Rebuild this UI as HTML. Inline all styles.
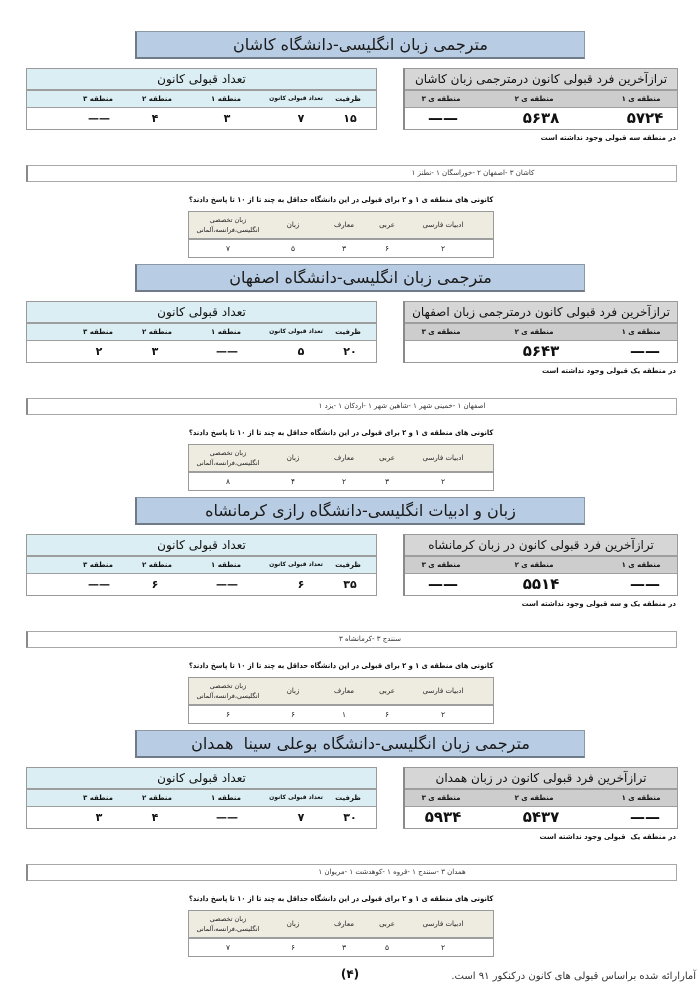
<!DOCTYPE html>
<html lang="fa">
<head>
<meta charset="utf-8">
<style>
  html,body{margin:0;padding:0;}
  body{width:700px;height:991px;background:#fff;position:relative;overflow:hidden;font-family:"DejaVu Sans","Liberation Sans",sans-serif;color:#111;}
  .s{position:absolute;left:0;width:700px;height:233px;}
  .t{position:absolute;left:135px;top:0;width:447px;height:25px;background:#b8cce4;border:1px solid #8c98a6;border-left:2px solid #6f7b88;border-bottom:2px solid #6f7b88;text-align:center;line-height:25px;font-size:16px;color:#1a1a1a;direction:rtl;white-space:nowrap;}
  .lt,.rt,.st{position:absolute;border:1px solid #9a9a9a;background:#fff;}
  .lt{left:26px;top:37px;width:349px;height:60px;}
  .rt{left:403px;top:37px;width:272px;height:60px;border-left:2px solid #8a8a8a;}
  .hd{position:absolute;left:0;right:0;top:0;height:20px;text-align:center;line-height:21px;font-size:12px;direction:rtl;white-space:nowrap;}
  .sb{position:absolute;left:0;right:0;top:20px;height:16px;border-top:2px solid #9e9e9e;border-bottom:1px solid #9e9e9e;}
  .lt .hd,.lt .sb{background:#daeef3;}
  .rt .hd{background:#d6d6d6;}
  .rt .sb{background:#cdcdcd;}
  .x{position:absolute;width:120px;margin-left:-60px;text-align:center;white-space:nowrap;direction:rtl;font-style:normal;}
  .lab{top:22px;line-height:16px;font-size:7px;font-weight:bold;}
  .d1{top:39px;line-height:21px;font-size:11px;font-weight:bold;}
  .d2{top:39px;line-height:21px;font-size:15px;font-weight:bold;}
  .note{position:absolute;right:24px;top:102px;line-height:10px;font-size:7px;font-weight:bold;direction:rtl;white-space:nowrap;}
  .city{position:absolute;left:26px;top:134px;width:648px;height:15px;border:1px solid #a8a8a8;border-left:2px solid #8a8a8a;}
  .ct{position:absolute;top:0;line-height:15px;font-size:7px;color:#333;direction:rtl;white-space:nowrap;width:300px;margin-left:-150px;text-align:center;}
  .q{position:absolute;left:141px;width:400px;top:164px;line-height:10px;font-size:7.5px;font-weight:bold;direction:rtl;text-align:center;white-space:nowrap;}
  .q span{display:inline-block;transform:scaleX(0.9);}
  .st{left:188px;top:180px;width:304px;height:45px;}
  .sh{position:absolute;left:0;right:0;top:0;height:26px;background:#eeece1;border-bottom:2px solid #9e9e9e;}
  .sl{top:0;line-height:27px;font-size:7px;color:#222;}
  .sl2{top:3px;line-height:10px;font-size:6.5px;color:#222;}
  .sd{top:28px;line-height:17px;font-size:7.5px;color:#222;}
  .foot1{position:absolute;left:334px;top:967px;width:32px;text-align:center;font-size:12px;font-weight:bold;direction:rtl;}
  .foot2{position:absolute;right:4px;top:971px;font-size:10px;color:#333;direction:rtl;white-space:nowrap;}
</style>
</head>
<body>

<!-- Section 1 -->
<div class="s" style="top:31px">
  <div class="t">مترجمی زبان انگلیسی-دانشگاه کاشان</div>
  <div class="lt">
    <div class="hd">تعداد قبولی کانون</div>
    <div class="sb"></div>
    <i class="x lab" style="left:321px">ظرفیت</i>
    <i class="x lab" style="left:269px;font-size:6px">تعداد قبولی کانون</i>
    <i class="x lab" style="left:199px">منطقه ۱</i>
    <i class="x lab" style="left:130px">منطقه ۲</i>
    <i class="x lab" style="left:71px">منطقه ۳</i>
    <i class="x d1" style="left:323px">۱۵</i>
    <i class="x d1" style="left:274px">۷</i>
    <i class="x d1" style="left:200px">۳</i>
    <i class="x d1" style="left:128px">۴</i>
    <i class="x d1" style="left:72px">——</i>
  </div>
  <div class="rt">
    <div class="hd">ترازآخرین فرد قبولی کانون درمترجمی زبان کاشان</div>
    <div class="sb"></div>
    <i class="x lab" style="left:236px">منطقه ی ۱</i>
    <i class="x lab" style="left:129px">منطقه ی ۲</i>
    <i class="x lab" style="left:36px">منطقه ی ۳</i>
    <i class="x d2" style="left:240px">۵۷۲۴</i>
    <i class="x d2" style="left:136px">۵۶۳۸</i>
    <i class="x d2" style="left:38px">——</i>
  </div>
  <div class="note">در منطقه سه قبولی وجود نداشته است</div>
  <div class="city"><i class="x ct" style="left:445px">کاشان ۳ -اصفهان ۲ -خوراسگان ۱ -نطنز ۱</i></div>
  <div class="q"><span>کانونی های منطقه ی ۱ و ۲ برای قبولی در این دانشگاه حداقل به چند تا از ۱۰ تا پاسخ دادند؟</span></div>
  <div class="st">
    <div class="sh"></div>
    <i class="x sl" style="left:254px">ادبیات فارسی</i>
    <i class="x sl" style="left:198px">عربی</i>
    <i class="x sl" style="left:155px">معارف</i>
    <i class="x sl" style="left:104px">زبان</i>
    <i class="x sl2" style="left:39px">زبان تخصصی<br>انگلیسی،فرانسه،آلمانی</i>
    <i class="x sd" style="left:254px">۲</i>
    <i class="x sd" style="left:198px">۶</i>
    <i class="x sd" style="left:155px">۳</i>
    <i class="x sd" style="left:104px">۵</i>
    <i class="x sd" style="left:39px">۷</i>
  </div>
</div>

<!-- Section 2 -->
<div class="s" style="top:264px">
  <div class="t">مترجمی زبان انگلیسی-دانشگاه اصفهان</div>
  <div class="lt">
    <div class="hd">تعداد قبولی کانون</div>
    <div class="sb"></div>
    <i class="x lab" style="left:321px">ظرفیت</i>
    <i class="x lab" style="left:269px;font-size:6px">تعداد قبولی کانون</i>
    <i class="x lab" style="left:199px">منطقه ۱</i>
    <i class="x lab" style="left:130px">منطقه ۲</i>
    <i class="x lab" style="left:71px">منطقه ۳</i>
    <i class="x d1" style="left:323px">۲۰</i>
    <i class="x d1" style="left:274px">۵</i>
    <i class="x d1" style="left:200px">——</i>
    <i class="x d1" style="left:128px">۳</i>
    <i class="x d1" style="left:72px">۲</i>
  </div>
  <div class="rt">
    <div class="hd">ترازآخرین فرد قبولی کانون درمترجمی زبان اصفهان</div>
    <div class="sb"></div>
    <i class="x lab" style="left:236px">منطقه ی ۱</i>
    <i class="x lab" style="left:129px">منطقه ی ۲</i>
    <i class="x lab" style="left:36px">منطقه ی ۳</i>
    <i class="x d2" style="left:240px">——</i>
    <i class="x d2" style="left:136px">۵۶۴۳</i>
  </div>
  <div class="note">در منطقه یک قبولی وجود نداشته است</div>
  <div class="city"><i class="x ct" style="left:374px">اصفهان ۱ -خمینی شهر ۱ -شاهین شهر ۱ -اردکان ۱ -یزد ۱</i></div>
  <div class="q"><span>کانونی های منطقه ی ۱ و ۲ برای قبولی در این دانشگاه حداقل به چند تا از ۱۰ تا پاسخ دادند؟</span></div>
  <div class="st">
    <div class="sh"></div>
    <i class="x sl" style="left:254px">ادبیات فارسی</i>
    <i class="x sl" style="left:198px">عربی</i>
    <i class="x sl" style="left:155px">معارف</i>
    <i class="x sl" style="left:104px">زبان</i>
    <i class="x sl2" style="left:39px">زبان تخصصی<br>انگلیسی،فرانسه،آلمانی</i>
    <i class="x sd" style="left:254px">۲</i>
    <i class="x sd" style="left:198px">۳</i>
    <i class="x sd" style="left:155px">۲</i>
    <i class="x sd" style="left:104px">۴</i>
    <i class="x sd" style="left:39px">۸</i>
  </div>
</div>

<!-- Section 3 -->
<div class="s" style="top:497px">
  <div class="t">زبان و ادبیات انگلیسی-دانشگاه رازی کرمانشاه</div>
  <div class="lt">
    <div class="hd">تعداد قبولی کانون</div>
    <div class="sb"></div>
    <i class="x lab" style="left:321px">ظرفیت</i>
    <i class="x lab" style="left:269px;font-size:6px">تعداد قبولی کانون</i>
    <i class="x lab" style="left:199px">منطقه ۱</i>
    <i class="x lab" style="left:130px">منطقه ۲</i>
    <i class="x lab" style="left:71px">منطقه ۳</i>
    <i class="x d1" style="left:323px">۳۵</i>
    <i class="x d1" style="left:274px">۶</i>
    <i class="x d1" style="left:200px">——</i>
    <i class="x d1" style="left:128px">۶</i>
    <i class="x d1" style="left:72px">——</i>
  </div>
  <div class="rt">
    <div class="hd">ترازآخرین فرد قبولی کانون در زبان کرمانشاه</div>
    <div class="sb"></div>
    <i class="x lab" style="left:236px">منطقه ی ۱</i>
    <i class="x lab" style="left:129px">منطقه ی ۲</i>
    <i class="x lab" style="left:36px">منطقه ی ۳</i>
    <i class="x d2" style="left:240px">——</i>
    <i class="x d2" style="left:136px">۵۵۱۴</i>
    <i class="x d2" style="left:38px">——</i>
  </div>
  <div class="note">در منطقه یک و سه قبولی وجود نداشته است</div>
  <div class="city"><i class="x ct" style="left:342px">سنندج ۳ -کرمانشاه ۳</i></div>
  <div class="q"><span>کانونی های منطقه ی ۱ و ۲ برای قبولی در این دانشگاه حداقل به چند تا از ۱۰ تا پاسخ دادند؟</span></div>
  <div class="st">
    <div class="sh"></div>
    <i class="x sl" style="left:254px">ادبیات فارسی</i>
    <i class="x sl" style="left:198px">عربی</i>
    <i class="x sl" style="left:155px">معارف</i>
    <i class="x sl" style="left:104px">زبان</i>
    <i class="x sl2" style="left:39px">زبان تخصصی<br>انگلیسی،فرانسه،آلمانی</i>
    <i class="x sd" style="left:254px">۲</i>
    <i class="x sd" style="left:198px">۶</i>
    <i class="x sd" style="left:155px">۱</i>
    <i class="x sd" style="left:104px">۶</i>
    <i class="x sd" style="left:39px">۶</i>
  </div>
</div>

<!-- Section 4 -->
<div class="s" style="top:730px">
  <div class="t">مترجمی زبان انگلیسی-دانشگاه بوعلی سینا&nbsp; همدان</div>
  <div class="lt">
    <div class="hd">تعداد قبولی کانون</div>
    <div class="sb"></div>
    <i class="x lab" style="left:321px">ظرفیت</i>
    <i class="x lab" style="left:269px;font-size:6px">تعداد قبولی کانون</i>
    <i class="x lab" style="left:199px">منطقه ۱</i>
    <i class="x lab" style="left:130px">منطقه ۲</i>
    <i class="x lab" style="left:71px">منطقه ۳</i>
    <i class="x d1" style="left:323px">۳۰</i>
    <i class="x d1" style="left:274px">۷</i>
    <i class="x d1" style="left:200px">——</i>
    <i class="x d1" style="left:128px">۴</i>
    <i class="x d1" style="left:72px">۳</i>
  </div>
  <div class="rt">
    <div class="hd">ترازآخرین فرد قبولی کانون در زبان همدان</div>
    <div class="sb"></div>
    <i class="x lab" style="left:236px">منطقه ی ۱</i>
    <i class="x lab" style="left:129px">منطقه ی ۲</i>
    <i class="x lab" style="left:36px">منطقه ی ۳</i>
    <i class="x d2" style="left:240px">——</i>
    <i class="x d2" style="left:136px">۵۴۳۷</i>
    <i class="x d2" style="left:38px">۵۹۳۴</i>
  </div>
  <div class="note">در منطقه یک&nbsp; قبولی وجود نداشته است</div>
  <div class="city"><i class="x ct" style="left:364px">همدان ۳ -سنندج ۱ -قروه ۱ -کوهدشت ۱ -مریوان ۱</i></div>
  <div class="q"><span>کانونی های منطقه ی ۱ و ۲ برای قبولی در این دانشگاه حداقل به چند تا از ۱۰ تا پاسخ دادند؟</span></div>
  <div class="st">
    <div class="sh"></div>
    <i class="x sl" style="left:254px">ادبیات فارسی</i>
    <i class="x sl" style="left:198px">عربی</i>
    <i class="x sl" style="left:155px">معارف</i>
    <i class="x sl" style="left:104px">زبان</i>
    <i class="x sl2" style="left:39px">زبان تخصصی<br>انگلیسی،فرانسه،آلمانی</i>
    <i class="x sd" style="left:254px">۲</i>
    <i class="x sd" style="left:198px">۵</i>
    <i class="x sd" style="left:155px">۳</i>
    <i class="x sd" style="left:104px">۶</i>
    <i class="x sd" style="left:39px">۷</i>
  </div>
</div>

<div class="foot1">(۴)</div>
<div class="foot2">آمارارائه شده براساس قبولی های کانون درکنکور ۹۱ است.</div>

</body>
</html>
